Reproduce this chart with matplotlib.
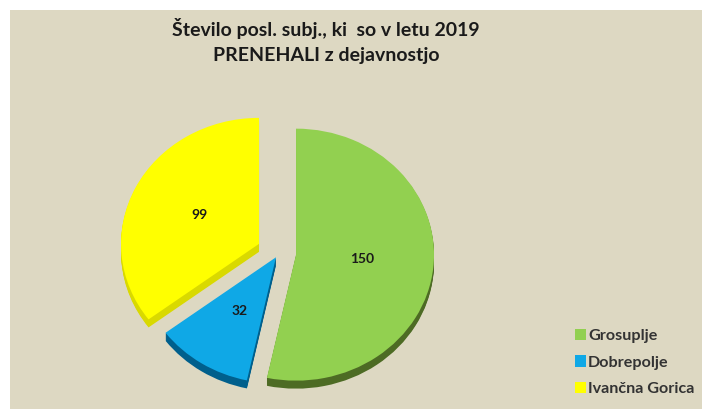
import matplotlib
matplotlib.use('Agg')
import matplotlib.pyplot as plt
from matplotlib.patches import Rectangle

plt.rcParams['font.family'] = ['Lato', 'DejaVu Sans']

labels = ['Grosuplje', 'Dobrepolje', 'Ivančna Gorica']
values = [150, 32, 99]
colors = ['#92d050', '#0fa8e6', '#ffff00']
side_colors = ['#4d6b24', '#005f8c', '#d9d900']
explode = [0.124, 0.04, 0.162]
title = 'Število posl. subj., ki  so v letu 2019\nPRENEHALI z dejavnostjo'

W, H = 702, 409
fig = plt.figure(figsize=(W / 100, H / 100), dpi=100, facecolor='white')

# beige panel with a thin white margin on the top and left
fig.add_artist(Rectangle((10 / W, 0), (W - 10) / W, 399 / H, transform=fig.transFigure,
                         facecolor='#ddd8c2', edgecolor='none', zorder=-1))

ax = fig.add_axes([0, 0, 1, 1])

# extruded side first, then the top face
depth = 8
for d in range(depth, 0, -1):
    ax.pie(values, colors=side_colors, explode=explode, startangle=90, counterclock=False,
           center=(0, -d / 126), radius=1, frame=False)
wedges, _ = ax.pie(values, colors=colors, explode=explode, startangle=90, counterclock=False,
                   radius=1, frame=False)

# the picture is slightly squashed: 138 px wide and 126 px high per unit
ax.set_aspect('auto')
ax.set_xlim(-279 / 138, (W - 279) / 138)
ax.set_ylim(-(H - 253) / 126, 253 / 126)
ax.axis('off')

value_pos = [(362, 259), (240, 311), (200, 215)]
for v, (px, py) in zip(values, value_pos):
    fig.text(px / W, 1 - py / H, str(v), fontsize=10, fontweight='bold', color='#1a1a1a',
             ha='center', va='center')

fig.text(326 / W, 1 - 41 / H, title, fontsize=14, fontweight='bold', color='#1a1a1a',
         ha='center', va='center', linespacing=1.6)

leg = fig.legend(wedges, labels, loc='lower left', bbox_to_anchor=(575 / W, 1 - 396 / H),
                 frameon=False, fontsize=11.6, labelcolor='#333333', handlelength=0.7,
                 handleheight=0.7, handletextpad=0.1, labelspacing=0.75, borderpad=0, borderaxespad=0)
for t in leg.get_texts():
    t.set_fontweight('bold')

fig.savefig('out.png', dpi=100, facecolor='white')
